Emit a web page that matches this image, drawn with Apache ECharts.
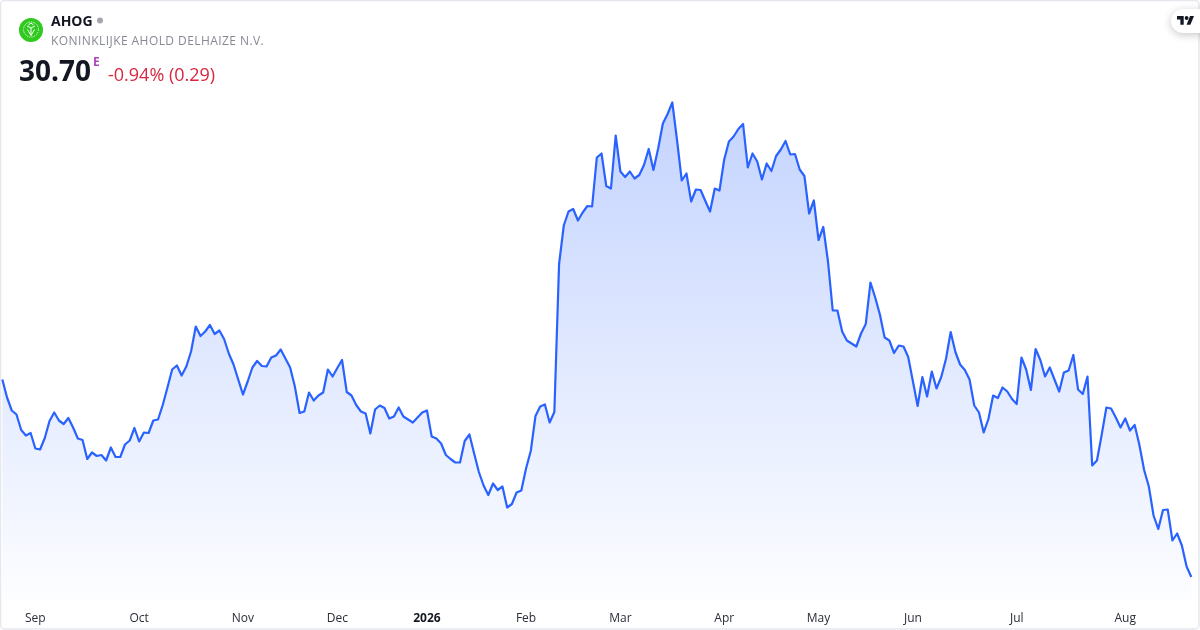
<!DOCTYPE html>
<html>
<head>
<meta charset="utf-8">
<style>html,body{margin:0;padding:0;background:#fff}#w{position:relative;width:1200px;height:630px}#c{width:1200px;height:630px}
#sub{position:absolute;left:51px;top:32px;font:400 12px/17px "Open Sans",sans-serif;letter-spacing:.43px;color:#868993;white-space:nowrap}</style>
<script src="https://cdn.jsdelivr.net/npm/echarts@6/dist/echarts.min.js"></script>
</head>
<body>
<div id="w"><div id="c"></div><div id="sub">KONINKLIJKE AHOLD DELHAIZE N.V.</div></div>
<script>
const prices = [
34.65,34.29,34.03,33.95,33.64,33.53,33.58,33.27,33.25,33.48,
33.82,33.99,33.83,33.76,33.88,33.69,33.47,33.44,33.06,33.19,
33.12,33.14,33.03,33.29,33.10,33.10,33.35,33.43,33.68,33.41,
33.59,33.58,33.83,33.85,34.14,34.49,34.85,34.93,34.73,34.91,
35.21,35.71,35.52,35.61,35.74,35.56,35.63,35.46,35.17,34.95,
34.65,34.35,34.61,34.89,35.02,34.92,34.91,35.09,35.13,35.25,
35.07,34.89,34.51,33.98,34.01,34.39,34.23,34.33,34.39,34.85,
34.71,34.88,35.04,34.40,34.33,34.14,34.01,33.97,33.57,34.05,
34.13,34.08,33.87,33.91,34.09,33.91,33.85,33.79,33.89,33.99,
34.03,33.51,33.47,33.37,33.14,33.06,32.99,32.99,33.42,33.55,
33.17,32.80,32.53,32.34,32.57,32.44,32.51,32.09,32.16,32.39,
32.43,32.87,33.22,33.92,34.11,34.15,33.79,34.00,36.96,37.73,
38.01,38.06,37.83,37.99,38.12,38.11,39.09,39.17,38.52,38.47,
39.53,38.81,38.70,38.81,38.67,38.74,38.94,39.26,38.84,39.27,
39.77,39.96,40.19,39.44,38.63,38.77,38.21,38.45,38.44,38.22,
38.01,38.47,38.43,39.05,39.41,39.51,39.66,39.76,38.89,39.17,
39.01,38.65,38.97,38.82,39.12,39.25,39.42,39.15,39.16,38.85,
38.72,37.97,38.23,37.44,37.70,37.01,36.03,36.03,35.61,35.43,
35.37,35.31,35.57,35.76,36.59,36.29,35.95,35.49,35.43,35.18,
35.33,35.31,35.10,34.61,34.12,34.70,34.31,34.81,34.47,34.70,
35.06,35.60,35.20,34.95,34.84,34.65,34.13,33.99,33.59,33.86,
34.33,34.28,34.49,34.41,34.26,34.16,35.09,34.85,34.44,35.26,
35.04,34.71,34.89,34.65,34.41,34.79,34.83,35.14,34.45,34.36,
34.71,32.93,33.03,33.54,34.09,34.07,33.89,33.69,33.87,33.63,
33.74,33.34,32.84,32.51,31.93,31.66,32.04,32.05,31.43,31.57,
31.33,30.91,30.70
];
const tickIndex = [7,29,51,71,90,111,131,153,173,193,215,238];
const tickLabels = ['Sep','Oct','Nov','Dec','2026','Feb','Mar','Apr','May','Jun','Jul','Aug'];
const categories = prices.map((_, i) => {
  const k = tickIndex.indexOf(i);
  return k >= 0 ? tickLabels[k] : 'd' + i;
});
const FONT = '"Open Sans", sans-serif';
const chart = echarts.init(document.getElementById('c'), null, {renderer:'canvas', width:1200, height:630});
chart.setOption({
  animation:false,
  backgroundColor:'#ffffff',
  grid:{left:2.33, right:8.7, top:100, bottom:30},
  xAxis:{
    type:'category', data:categories, boundaryGap:false,
    axisLine:{show:false}, axisTick:{show:false}, splitLine:{show:false},
    axisLabel:{
      interval:(i)=>tickIndex.includes(i),
      margin:13, fontFamily:FONT, fontSize:12, color:'#2a2e39', hideOverlap:false,
      formatter:(v)=> v==='2026' ? '{b|2026}' : v,
      rich:{b:{fontFamily:FONT,fontSize:12,fontWeight:700,color:'#131722'}}
    }
  },
  yAxis:{type:'value', min:30.24, max:40.24, show:false, splitLine:{show:false}},
  series:[{
    type:'line', data:prices, symbol:'none', smooth:false, clip:false,
    lineStyle:{color:'#2962ff', width:2.2, join:'round'},
    areaStyle:{opacity:1,color:new echarts.graphic.LinearGradient(0,100,0,600,[
      {offset:0,color:'rgba(41,98,255,0.28)'},
      {offset:1,color:'rgba(41,98,255,0.01)'}
    ],true)}
  }],
  graphic:[
    {type:'rect', z:0, silent:true, shape:{x:0.5,y:0.5,width:1198.5,height:628.5,r:4}, style:{fill:'none',stroke:'#e6e8ee',lineWidth:1.5}},
    {type:'circle', z:10, shape:{cx:31,cy:30,r:12}, style:{fill:'#2fc91f'}},
    {type:'circle', z:11, shape:{cx:31,cy:29.5,r:7.5}, style:{fill:'none',stroke:'#d8f5d3',lineWidth:1,lineDash:[1.5,1]}},
    {type:'polyline', z:11, shape:{points:[[27,26],[31,28],[35,26]]}, style:{fill:'none',stroke:'#ffffff',lineWidth:1}},
    {type:'polyline', z:11, shape:{points:[[27.5,29.5],[31,35.5],[34.5,29.5]]}, style:{fill:'none',stroke:'#ffffff',lineWidth:1}},
    {type:'polyline', z:11, shape:{points:[[28.5,25],[31,23],[33.5,25]]}, style:{fill:'none',stroke:'#ffffff',lineWidth:1}},
    {type:'line', z:11, shape:{x1:31,y1:28,x2:31,y2:35}, style:{stroke:'#ffffff',lineWidth:1}},
    {type:'text', z:10, x:51, y:22, style:{text:'AHOG',font:'700 14px '+FONT,fill:'#131722',textVerticalAlign:'middle'}},
    {type:'circle', z:10, shape:{cx:100,cy:20.5,r:3}, style:{fill:'#a3a6af'}},
    {type:'text', z:10, x:19, y:73.5, style:{text:'30.70',font:'700 28px '+FONT,fill:'#131722',textVerticalAlign:'middle'}},
    {type:'text', z:10, x:93, y:62.5, style:{text:'E',font:'700 12px '+FONT,fill:'#ab47bc',textVerticalAlign:'middle'}},
    {type:'text', z:10, x:108, y:75.5, style:{text:'-0.94% (0.29)',font:'400 18px '+FONT,fill:'#d8273f',textVerticalAlign:'middle'}},
    {type:'rect', z:10, shape:{x:1171,y:9,width:40,height:24,r:12}, style:{fill:'#ffffff',shadowColor:'rgba(0,0,0,0.22)',shadowBlur:8,shadowOffsetY:2}},
    {type:'polygon', z:11, shape:{points:[[1177,16],[1183.7,16],[1183.7,24.8],[1180.4,24.8],[1180.4,19.4],[1177,19.4]]}, style:{fill:'#131722'}},
    {type:'polygon', z:11, shape:{points:[[1190,16],[1194,16],[1190.4,24.8],[1186.6,24.8]]}, style:{fill:'#131722'}},
    {type:'circle', z:11, shape:{cx:1186.6,cy:18,r:1.9}, style:{fill:'#131722'}}
  ]
});
</script>
</body>
</html>
